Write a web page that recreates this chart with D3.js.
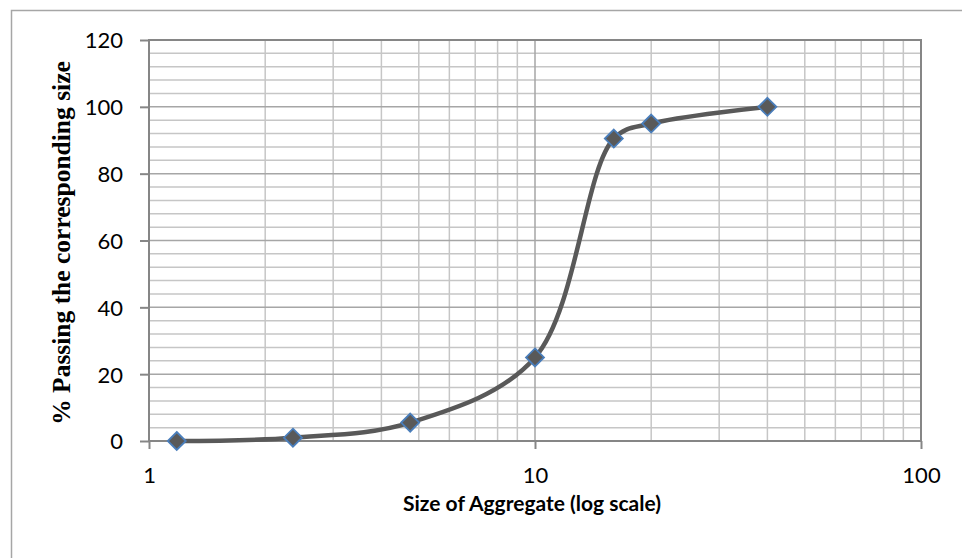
<!DOCTYPE html>
<html>
<head>
<meta charset="utf-8">
<script src="https://cdn.jsdelivr.net/npm/d3@7"></script>
<style>
  html, body { margin: 0; padding: 0; background: #fff; }
  svg { display: block; }
</style>
</head>
<body>
<svg id="chart" width="962" height="558"></svg>
<script>
// Sieve sizes (mm) and cumulative percentage passing
const sizes = [1.18, 2.36, 4.75, 10, 16, 20, 40];
const passing = [0, 1, 5.5, 25, 90.5, 95, 100];
const xTicks = [1, 10, 100];
const yTicks = [0, 20, 40, 60, 80, 100, 120];

const svg = d3.select("#chart");
const W = 962, H = 558;
const m = { left: 149, right: W - 921, top: 40, bottom: H - 441 };

const x = d3.scaleLog().domain([1, 100]).range([m.left, W - m.right]);
const y = d3.scaleLinear().domain([0, 120]).range([H - m.bottom, m.top]);

const labelFont = "Lato, 'Open Sans', 'Liberation Sans', sans-serif";

// outer chart frame (left and top edges)
svg.append("path")
  .attr("d", `M11.5,${H} L11.5,10.5 L${W},10.5`)
  .attr("fill", "none").attr("stroke", "#a6a6a6").attr("stroke-width", 1.5);

const g = svg.append("g");

// minor grid
const minorX = [];
for (let d = 1; d < 100; d *= 10) for (let k = 2; k <= 9; k++) minorX.push(d * k);
const minorY = d3.range(0, 121, 4).filter(v => v % 20 !== 0);

g.selectAll(".mx").data(minorX).join("line")
  .attr("x1", d => x(d)).attr("x2", d => x(d))
  .attr("y1", y(0)).attr("y2", y(120))
  .attr("stroke", "#c6c6c6").attr("stroke-width", 1.5);
g.selectAll(".my").data(minorY).join("line")
  .attr("x1", x(1)).attr("x2", x(100))
  .attr("y1", d => y(d)).attr("y2", d => y(d))
  .attr("stroke", "#c6c6c6").attr("stroke-width", 1.5);

// major grid
g.selectAll(".Mx").data(xTicks).join("line")
  .attr("x1", d => x(d)).attr("x2", d => x(d))
  .attr("y1", y(0)).attr("y2", y(120))
  .attr("stroke", "#a6a6a6").attr("stroke-width", 1.5);
g.selectAll(".My").data(yTicks).join("line")
  .attr("x1", x(1)).attr("x2", x(100))
  .attr("y1", d => y(d)).attr("y2", d => y(d))
  .attr("stroke", "#a6a6a6").attr("stroke-width", 1.5);

// plot frame
g.append("rect")
  .attr("x", x(1)).attr("y", y(120))
  .attr("width", x(100) - x(1)).attr("height", y(0) - y(120))
  .attr("fill", "none").attr("stroke", "#868686").attr("stroke-width", 2);

// axes
const yAxis = d3.axisLeft(y).tickValues(yTicks).tickSize(9).tickPadding(17).tickFormat(d3.format("d"));
const xAxis = d3.axisBottom(x).tickValues(xTicks).tickSize(8).tickPadding(6).tickFormat(d3.format("d"));

const ya = svg.append("g").attr("transform", `translate(${x(1)},0)`).call(yAxis);
const xa = svg.append("g").attr("transform", `translate(0,${y(0)})`).call(xAxis);
[ya, xa].forEach(a => {
  a.select(".domain").remove();
  a.selectAll(".tick line").attr("stroke", "#868686").attr("stroke-width", 2);
  a.selectAll(".tick text")
    .attr("fill", "#000")
    .style("font-family", labelFont)
    .style("font-size", "22px");
});
ya.selectAll(".tick text").attr("dy", "0.36em");
xa.selectAll(".tick text").attr("y", 0).attr("dy", 0)
  .attr("transform", "translate(0,42)");

// smoothed gradation curve
const pts = sizes.map((s, i) => [x(s), y(passing[i])]);
svg.append("path")
  .attr("d", d3.line().curve(d3.curveCatmullRom.alpha(0.5))(pts))
  .attr("fill", "none").attr("stroke", "#595959").attr("stroke-width", 4.5)
  .attr("stroke-linejoin", "round");

// diamond markers
svg.selectAll(".pt").data(pts).join("path")
  .attr("transform", d => `translate(${d[0]},${d[1]})`)
  .attr("d", "M0,-9 L9,0 L0,9 L-9,0 Z")
  .attr("fill", "#595959").attr("stroke", "#4a7ebb").attr("stroke-width", 1.8);

// axis titles
svg.append("text")
  .attr("x", 532).attr("y", 511)
  .attr("text-anchor", "middle")
  .style("font-family", labelFont)
  .style("font-weight", "bold").style("font-size", "21px")
  .text("Size of Aggregate (log scale)");

svg.append("text")
  .attr("transform", `translate(70,243) rotate(-90)`)
  .attr("text-anchor", "middle")
  .style("font-family", "'Liberation Serif', 'Times New Roman', serif")
  .style("font-weight", "bold").style("font-size", "25.5px")
  .text("% Passing the corresponding size");
</script>
</body>
</html>
